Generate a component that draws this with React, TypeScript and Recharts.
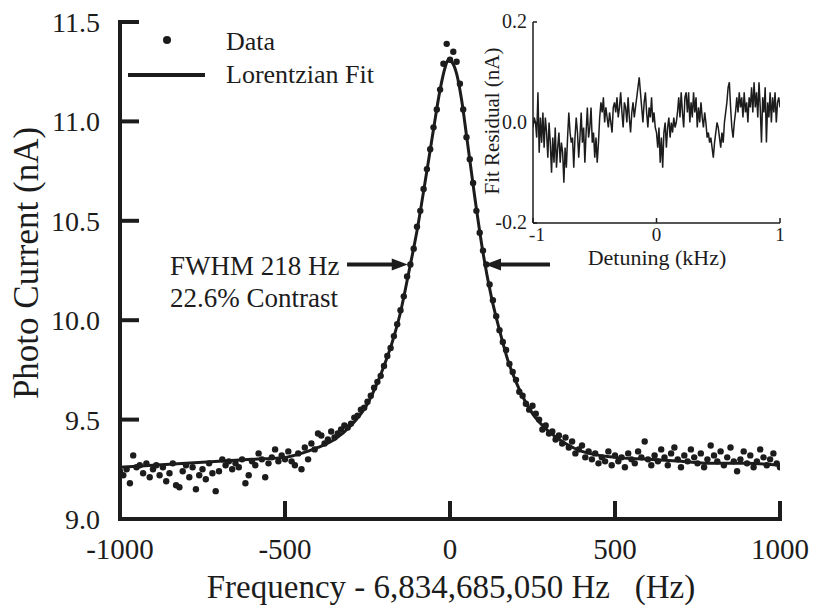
import React from 'react';
import { ComposedChart, LineChart, Line, Scatter, XAxis, YAxis, ReferenceLine } from 'recharts';

const FONT = 'Liberation Serif, Tinos, DejaVu Serif, Times New Roman, serif';
const INK = '#1c1c1c';

// Main scan: photo current (nA) sampled every 10 Hz from -1000 Hz to +1000 Hz
const FREQ_START = -1000;
const FREQ_STEP = 10;
const PHOTO_CURRENT = [
  9.24, 9.22, 9.25, 9.18, 9.32, 9.26, 9.27, 9.23, 9.28, 9.21,
  9.25, 9.27, 9.22, 9.26, 9.19, 9.23, 9.28, 9.17, 9.16, 9.24,
  9.27, 9.21, 9.26, 9.15, 9.22, 9.25, 9.20, 9.28, 9.23, 9.14,
  9.24, 9.30, 9.27, 9.29, 9.25, 9.28, 9.26, 9.30, 9.18, 9.22,
  9.29, 9.27, 9.33, 9.30, 9.21, 9.28, 9.31, 9.35, 9.29, 9.32,
  9.30, 9.34, 9.29, 9.27, 9.33, 9.25, 9.36, 9.30, 9.38, 9.35,
  9.43, 9.42, 9.38, 9.40, 9.44, 9.41, 9.43, 9.45, 9.47, 9.46,
  9.48, 9.51, 9.52, 9.55, 9.56, 9.59, 9.62, 9.66, 9.69, 9.72,
  9.77, 9.82, 9.86, 9.92, 9.98, 10.05, 10.12, 10.22, 10.28, 10.36,
  10.47, 10.55, 10.66, 10.76, 10.86, 10.97, 11.06, 11.16, 11.29, 11.39,
  11.31, 11.35, 11.30, 11.19, 11.06, 10.92, 10.81, 10.69, 10.55, 10.44,
  10.35, 10.28, 10.18, 10.10, 10.02, 9.95, 9.89, 9.85, 9.78, 9.74,
  9.70, 9.64, 9.62, 9.58, 9.55, 9.57, 9.53, 9.50, 9.45, 9.47,
  9.43, 9.44, 9.40, 9.42, 9.38, 9.41, 9.36, 9.39, 9.33, 9.35,
  9.37, 9.31, 9.34, 9.30, 9.33, 9.28, 9.31, 9.29, 9.34, 9.27,
  9.32, 9.29, 9.31, 9.26, 9.33, 9.30, 9.28, 9.34, 9.31, 9.39,
  9.30, 9.27, 9.32, 9.29, 9.35, 9.31, 9.27, 9.33, 9.36, 9.30,
  9.26, 9.32, 9.29, 9.35, 9.31, 9.28, 9.33, 9.26, 9.30, 9.37,
  9.32, 9.29, 9.34, 9.27, 9.31, 9.36, 9.29, 9.24, 9.30, 9.34,
  9.28, 9.32, 9.26, 9.29, 9.35, 9.31, 9.27, 9.30, 9.33, 9.28,
  9.26,
];

// Lorentzian fit curve
const FIT_FREQ = [
  -1000, -900, -800, -700, -600, -500, -450, -400, -350, -300, -250, -200, -175, -150, -125, -100,
  -75, -50, -30, -15, -5, 5, 20, 35, 50, 75, 100, 125, 150, 175, 200, 250, 300, 350, 400, 500,
  600, 700, 800, 900, 1000,
];
const FIT_CURRENT = [
  9.26, 9.27, 9.28, 9.29, 9.30, 9.31, 9.33, 9.36, 9.40, 9.47, 9.58, 9.77, 9.89, 10.04, 10.24, 10.45,
  10.70, 10.96, 11.16, 11.27, 11.31, 11.30, 11.24, 11.11, 10.93, 10.62, 10.34, 10.12, 9.95, 9.80, 9.69, 9.53, 9.44, 9.38, 9.34, 9.31,
  9.30, 9.29, 9.28, 9.28, 9.27,
];

// Inset: fit residual (nA) vs detuning (kHz), every 0.01 kHz
const DETUNING_START = -1;
const DETUNING_STEP = 0.01;
const RESIDUAL = [
  -0.01, 0.01, 0.00, -0.03, 0.06, -0.06, 0.01, -0.04, 0.02, -0.05,
  0.01, -0.02, -0.07, 0.00, -0.04, -0.10, -0.03, -0.08, -0.01, -0.09,
  -0.05, -0.02, -0.08, -0.04, -0.06, -0.12, -0.05, -0.09, -0.03, 0.02,
  -0.02, -0.04, -0.03, -0.09, -0.03, 0.01, -0.02, -0.07, -0.03, 0.02,
  -0.04, -0.01, -0.08, -0.02, 0.03, -0.03, -0.01, 0.03, -0.04, -0.02,
  -0.07, -0.03, -0.08, -0.04, 0.01, 0.04, 0.02, 0.05, 0.00, 0.03,
  0.01, -0.01, 0.02, 0.00, -0.02, 0.03, 0.04, 0.02, 0.05, 0.01,
  0.03, 0.06, 0.02, -0.01, 0.04, 0.03, 0.00, 0.05, 0.01, -0.02,
  0.02, 0.04, 0.01, 0.03, 0.05, 0.07, 0.09, 0.06, 0.03, 0.00,
  0.04, 0.06, 0.02, -0.01, 0.03, 0.01, 0.05, 0.00, 0.02, -0.01,
  -0.02, -0.05, -0.01, -0.08, -0.03, -0.09, -0.02, 0.00, -0.05, -0.01,
  0.01, -0.03, 0.00, -0.02, 0.01, -0.01, 0.00, 0.02, 0.05, 0.01,
  0.06, 0.02, -0.01, 0.05, 0.06, 0.02, 0.06, 0.00, 0.04, 0.01,
  0.06, 0.02, 0.05, -0.01, 0.03, 0.00, 0.04, 0.01, -0.01, 0.02,
  0.00, -0.03, -0.02, -0.04, -0.03, -0.05, -0.07, -0.04, -0.02, 0.00,
  -0.01, -0.03, -0.05, -0.02, -0.04, 0.00, 0.02, 0.04, 0.07, 0.08,
  0.03, -0.01, -0.03, 0.00, 0.02, 0.05, 0.02, 0.06, 0.03, 0.05,
  0.01, 0.06, 0.02, 0.04, 0.00, 0.05, 0.03, 0.07, 0.02, 0.08,
  0.03, 0.06, 0.01, 0.08, 0.03, -0.04, 0.05, 0.02, 0.07, -0.04,
  0.04, 0.01, 0.06, 0.00, 0.05, 0.02, 0.06, 0.00, 0.04, 0.05,
  0.03,
];

const MAIN_X_TICKS = [-1000, -500, 0, 500, 1000];
const MAIN_Y_TICKS = [9.0, 9.5, 10.0, 10.5, 11.0, 11.5];
const INSET_X_TICKS = [-1, 0, 1];
const INSET_Y_TICKS = [-0.2, 0, 0.2];

const FWHM_LEVEL = 10.28;
const FWHM_LEFT_FROM = -312;
const FWHM_LEFT_TO = -128;
const FWHM_RIGHT_FROM = 303;
const FWHM_RIGHT_TO = 106;

const dataPoints = PHOTO_CURRENT.map((y, i) => ({ x: FREQ_START + i * FREQ_STEP, y }));
const fitPoints = FIT_FREQ.map((x, i) => ({ x, y: FIT_CURRENT[i] }));
const residualPoints = RESIDUAL.map((r, i) => ({
  x: Math.round((DETUNING_START + i * DETUNING_STEP) * 100) / 100,
  r,
}));

const txt = (size: number) => ({ fontFamily: FONT, fontSize: size });

const MainXTick = (p: any) => (
  <g>
    <line x1={p.x} y1={p.y} x2={p.x} y2={p.y - 18} stroke={INK} strokeWidth={4} />
    <text x={p.x} y={p.y + 40} textAnchor="middle" style={txt(29)} fill={INK}>
      {String(p.payload.value)}
    </text>
  </g>
);

const MainYTick = (p: any) => (
  <g>
    <line x1={p.x} y1={p.y} x2={p.x + 19} y2={p.y} stroke={INK} strokeWidth={4} />
    <text x={p.x - 20} y={p.y + 10} textAnchor="end" style={txt(28)} fill={INK}>
      {Number(p.payload.value).toFixed(1)}
    </text>
  </g>
);

const InsetXTick = (p: any) => (
  <g>
    <line x1={p.x} y1={p.y} x2={p.x} y2={p.y - 5} stroke={INK} strokeWidth={1.5} />
    <text x={p.x + (p.index === 0 ? 4 : 0)} y={p.y + 18} textAnchor="middle" style={txt(19)} fill={INK}>
      {String(p.payload.value)}
    </text>
  </g>
);

const InsetYTick = (p: any) => (
  <g>
    <line x1={p.x} y1={p.y} x2={p.x + 4} y2={p.y} stroke={INK} strokeWidth={1.5} />
    <text x={p.x - 6} y={p.y + 6} textAnchor="end" style={txt(20)} fill={INK}>
      {Number(p.payload.value).toFixed(1)}
    </text>
  </g>
);

const DataDot = (p: any) => <circle cx={p.cx} cy={p.cy} r={3.2} fill={INK} />;

const Arrow = (p: any) => {
  const { x1, y1, x2, y2 } = p;
  const dir = x2 >= x1 ? 1 : -1;
  const headLen = 16;
  const half = 6;
  return (
    <g>
      <line x1={x1} y1={y1} x2={x2 - dir * (headLen - 2)} y2={y2} stroke={INK} strokeWidth={4} />
      <polygon
        points={`${x2},${y2} ${x2 - dir * headLen},${y2 - half} ${x2 - dir * headLen},${y2 + half}`}
        fill={INK}
      />
    </g>
  );
};

export default function App() {
  return (
    <div style={{ position: 'absolute', left: 0, top: 0, width: 818, height: 610, background: '#fff', fontFamily: FONT }}>
      <div style={{ position: 'absolute', left: 0, top: 0 }}>
        <ComposedChart width={818} height={610} margin={{ top: 22, right: 38, bottom: 0, left: 0 }}>
          <XAxis
            type="number"
            dataKey="x"
            domain={[-1000, 1000]}
            ticks={MAIN_X_TICKS}
            interval={0}
            allowDataOverflow
            height={91}
            tickSize={0}
            tickMargin={0}
            tickLine={false}
            tick={(p: any) => <MainXTick {...p} />}
            axisLine={{ stroke: INK, strokeWidth: 4, strokeLinecap: 'square' }}
          />
          <YAxis
            type="number"
            dataKey="y"
            domain={[9, 11.5]}
            ticks={MAIN_Y_TICKS}
            interval={0}
            allowDataOverflow
            width={120}
            tickSize={0}
            tickMargin={0}
            tickLine={false}
            tick={(p: any) => <MainYTick {...p} />}
            axisLine={{ stroke: INK, strokeWidth: 4, strokeLinecap: 'square' }}
          />
          <Line
            data={fitPoints}
            dataKey="y"
            type="monotone"
            stroke={INK}
            strokeWidth={3}
            dot={false}
            activeDot={false}
            isAnimationActive={false}
          />
          <Scatter data={dataPoints} dataKey="y" shape={DataDot} isAnimationActive={false} />
          <ReferenceLine
            segment={[{ x: FWHM_LEFT_FROM, y: FWHM_LEVEL }, { x: FWHM_LEFT_TO, y: FWHM_LEVEL }]}
            ifOverflow="visible"
            shape={(p: any) => <Arrow {...p} />}
          />
          <ReferenceLine
            segment={[{ x: FWHM_RIGHT_FROM, y: FWHM_LEVEL }, { x: FWHM_RIGHT_TO, y: FWHM_LEVEL }]}
            ifOverflow="visible"
            shape={(p: any) => <Arrow {...p} />}
          />
        </ComposedChart>
      </div>
      <div style={{ position: 'absolute', left: 0, top: 0 }}>
        <LineChart width={818} height={610} data={residualPoints} margin={{ top: 22, right: 38, bottom: 0, left: 0 }}>
          <XAxis
            type="number"
            dataKey="x"
            domain={[-1, 1]}
            ticks={INSET_X_TICKS}
            interval={0}
            allowDataOverflow
            height={387}
            tickSize={0}
            tickMargin={0}
            tickLine={false}
            tick={(p: any) => <InsetXTick {...p} />}
            axisLine={{ stroke: INK, strokeWidth: 1.5 }}
          />
          <YAxis
            type="number"
            domain={[-0.2, 0.2]}
            ticks={INSET_Y_TICKS}
            interval={0}
            allowDataOverflow
            width={533}
            tickSize={0}
            tickMargin={0}
            tickLine={false}
            tick={(p: any) => <InsetYTick {...p} />}
            axisLine={{ stroke: INK, strokeWidth: 1.5 }}
          />
          <Line
            dataKey="r"
            type="linear"
            stroke={INK}
            strokeWidth={1.5}
            dot={false}
            activeDot={false}
            isAnimationActive={false}
          />
        </LineChart>
      </div>
      <svg
        width={818}
        height={610}
        style={{ position: 'absolute', left: 0, top: 0, pointerEvents: 'none', fontFamily: FONT }}
        fill={INK}
      >
        <text transform="translate(38,263) rotate(-90)" textAnchor="middle" style={txt(35)}>
          Photo Current (nA)
        </text>
        <text x={451} y={598} textAnchor="middle" style={txt(33)}>
          {'Frequency - 6,834,685,050 Hz\u00A0\u00A0\u00A0(Hz)'}
        </text>
        <circle cx={167} cy={40} r={4} />
        <text x={226} y={50} style={txt(26)}>Data</text>
        <line x1={128} y1={75} x2={205} y2={75} stroke={INK} strokeWidth={4} />
        <text x={226} y={83} style={txt(26)}>Lorentzian Fit</text>
        <text x={170} y={275} style={txt(27)}>FWHM 218 Hz</text>
        <text x={170} y={307} style={txt(27)}>22.6% Contrast</text>
        <text transform="translate(499,121) rotate(-90)" textAnchor="middle" style={txt(21)}>
          Fit Residual (nA)
        </text>
        <text x={657} y={265} textAnchor="middle" style={txt(22)}>
          Detuning (kHz)
        </text>
      </svg>
    </div>
  );
}
